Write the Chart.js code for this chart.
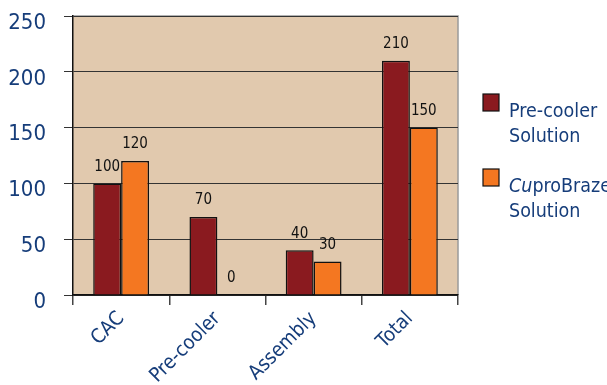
<!DOCTYPE html>
<html>
<head>
<meta charset="utf-8">
<script src="https://cdn.jsdelivr.net/npm/chart.js@4"></script>
<style>
  html, body { margin: 0; padding: 0; background: #fff; }
  #wrap { width: 607px; height: 385px; position: relative; }
</style>
</head>
<body>
<div id="wrap"><canvas id="chart"></canvas></div>
<script>
// Chart data
const categories = ['CAC', 'Pre-cooler', 'Assembly', 'Total'];
const precoolerValues = [100, 70, 40, 210];
const cuprobrazeValues = [120, 0, 30, 150];
const yTicks = [0, 50, 100, 150, 200, 250];

const navy = '#163d7a';
const font = "'DejaVu Sans Condensed', 'Liberation Sans', sans-serif";

// Plot background and top/right frame
const plotFrame = {
  id: 'plotFrame',
  beforeDraw(chart) {
    const { ctx, chartArea: a } = chart;
    ctx.save();
    ctx.fillStyle = '#e1c9ae';
    ctx.fillRect(a.left, a.top, a.right - a.left, a.bottom - a.top);
    ctx.strokeStyle = '#9a9a9a';
    ctx.lineWidth = 1.5;
    ctx.beginPath();
    ctx.moveTo(a.left, a.top);
    ctx.lineTo(a.right, a.top);
    ctx.lineTo(a.right, a.bottom);
    ctx.stroke();
    ctx.restore();
  }
};

// Value labels above each bar
const valueLabels = {
  id: 'valueLabels',
  afterDatasetsDraw(chart) {
    const { ctx } = chart;
    ctx.save();
    ctx.fillStyle = '#111';
    ctx.font = '15px ' + font;
    ctx.textAlign = 'center';
    ctx.textBaseline = 'bottom';
    chart.data.datasets.forEach((ds, i) => {
      chart.getDatasetMeta(i).data.forEach((bar, j) => {
        ctx.fillText(String(ds.data[j]), bar.x, bar.y - 9);
      });
    });
    ctx.restore();
  }
};

// Legend on the right, two lines per entry
const sideLegend = {
  id: 'sideLegend',
  afterDraw(chart) {
    const { ctx } = chart;
    const entries = [
      { color: '#8a1a1f', lines: [[['Pre-cooler', false]], [['Solution', false]]], y: 94 },
      { color: '#f47721', lines: [[['Cu', true], ['proBraze', false]], [['Solution', false]]], y: 169 }
    ];
    ctx.save();
    entries.forEach(e => {
      ctx.fillStyle = e.color;
      ctx.strokeStyle = '#111';
      ctx.lineWidth = 1.2;
      ctx.fillRect(483, e.y, 16, 17);
      ctx.strokeRect(483, e.y, 16, 17);
      ctx.fillStyle = navy;
      ctx.textBaseline = 'alphabetic';
      ctx.textAlign = 'left';
      e.lines.forEach((parts, k) => {
        let x = 509;
        parts.forEach(([txt, italic]) => {
          ctx.font = (italic ? 'italic ' : '') + '19.5px ' + font;
          ctx.fillText(txt, x, e.y + 23 + k * 25);
          x += ctx.measureText(txt).width;
        });
      });
    });
    ctx.restore();
  }
};

new Chart(document.getElementById('chart'), {
  type: 'bar',
  data: {
    labels: categories,
    datasets: [
      {
        label: 'Pre-cooler Solution',
        data: precoolerValues,
        backgroundColor: '#8a1a1f',
        borderColor: '#111',
        borderWidth: 1.5,
        borderSkipped: 'bottom'
      },
      {
        label: 'CuproBraze Solution',
        data: cuprobrazeValues,
        backgroundColor: '#f47721',
        borderColor: '#111',
        borderWidth: 1.5,
        borderSkipped: 'bottom'
      }
    ]
  },
  options: {
    responsive: true,
    maintainAspectRatio: false,
    animation: false,
    layout: { padding: { top: 16, right: 149, left: 0, bottom: 0 } },
    datasets: { bar: { categoryPercentage: 0.58, barPercentage: 1.0 } },
    plugins: {
      legend: { display: false },
      tooltip: { enabled: false }
    },
    scales: {
      x: {
        afterFit(scale) { scale.height = 90; scale.paddingLeft = 0; scale.paddingRight = 0; },
        grid: {
          offset: true,
          drawOnChartArea: false,
          color: '#444',
          tickLength: 10,
          lineWidth: 1.5
        },
        border: { color: '#111', width: 1.5 },
        ticks: {
          color: navy,
          font: { family: font, size: 20 },
          maxRotation: 45,
          minRotation: 45,
          padding: 2
        }
      },
      y: {
        min: 0,
        max: 250,
        afterFit(scale) { scale.width = 73; scale.paddingTop = 0; scale.paddingBottom = 0; },
        afterBuildTicks(scale) { scale.ticks = yTicks.map(v => ({ value: v })); },
        grid: {
          color: '#333',
          lineWidth: 1,
          tickLength: 9
        },
        border: { color: '#111', width: 1.5 },
        ticks: {
          color: navy,
          font: { family: font, size: 22 },
          padding: 18,
          labelOffset: 7
        }
      }
    }
  },
  plugins: [plotFrame, valueLabels, sideLegend]
});
</script>
</body>
</html>
